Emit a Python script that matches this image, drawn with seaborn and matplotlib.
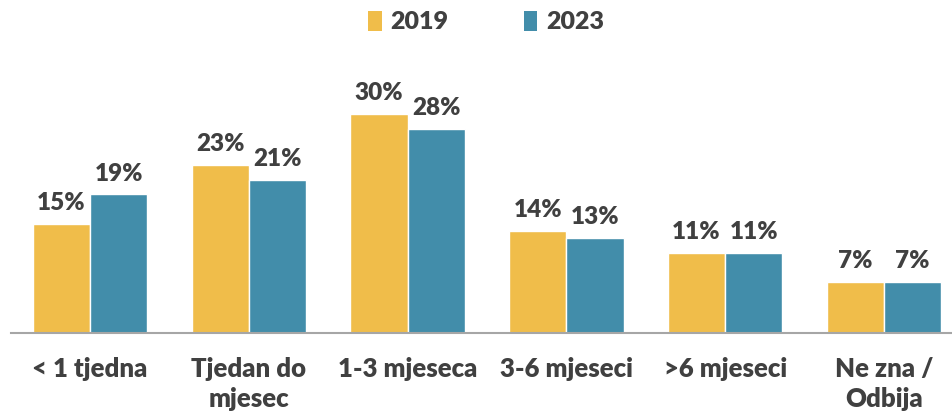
import matplotlib
matplotlib.use("Agg")
import matplotlib.pyplot as plt
import seaborn as sns
import pandas as pd
from matplotlib.patches import Patch

categories = ["< 1 tjedna", "Tjedan do\nmjesec", "1-3 mjeseca", "3-6 mjeseci", ">6 mjeseci", "Ne zna /\nOdbija"]
years = ["2019", "2023"]
values_2019 = [15, 23, 30, 14, 11, 7]
values_2023 = [19, 21, 28, 13, 11, 7]
colors = ["#F0BD4A", "#428DAA"]

df = pd.DataFrame({
    "cat": categories * 2,
    "year": [years[0]] * len(categories) + [years[1]] * len(categories),
    "val": values_2019 + values_2023,
})

sns.set_theme(style="white")
plt.rcParams["font.family"] = ["Lato", "DejaVu Sans"]
W = "heavy"
plt.rcParams["font.weight"] = W
txt = "#404040"

fig = plt.figure(figsize=(9.53, 4.15), dpi=100)
ax = fig.add_axes([10.6 / 953, 82 / 415, 952.8 / 953, 273 / 415])

sns.barplot(data=df, x="cat", y="val", hue="year", palette=colors, width=0.72,
            edgecolor="white", linewidth=1, ax=ax, legend=False, saturation=1)

for cont in ax.containers:
    ax.bar_label(cont, fmt="{:.0f}%", padding=7, fontsize=17.5, fontweight=W, color=txt)

ax.set_ylim(0, 37.4)
ax.set_xlim(-0.5, 5.5)
ax.set_xlabel("")
ax.set_ylabel("")
ax.set_yticks([])
for s in ["top", "right", "left"]:
    ax.spines[s].set_visible(False)
ax.spines["bottom"].set_color("#A6A6A6")
ax.spines["bottom"].set_linewidth(1.5)
ax.tick_params(axis="x", length=0, pad=17, labelsize=18.5, labelcolor=txt)
for lbl in ax.get_xticklabels():
    lbl.set_fontweight(W)
    lbl.set_linespacing(1.3)

handles = [Patch(facecolor=c, edgecolor="none") for c in colors]
fig.legend(handles, years, loc="center", bbox_to_anchor=(486 / 953, 1 - 22 / 415), ncol=2,
           frameon=False, prop={"weight": W, "size": 18},
           handlelength=0.55, handleheight=0.85, handletextpad=0.35, columnspacing=3.0,
           labelcolor=txt)

fig.savefig("out.png", dpi=100)
